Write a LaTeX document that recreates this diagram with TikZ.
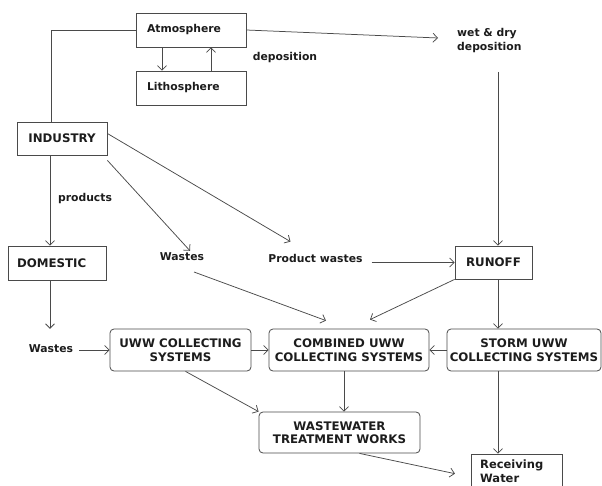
\documentclass[tikz,border=0pt]{standalone}
\usepackage{fontspec}
\setmainfont{DejaVu Sans}
\usetikzlibrary{arrows.meta}
\definecolor{lncol}{HTML}{4A4A4A}
\definecolor{txcol}{HTML}{1C1C1C}
\tikzset{
  capfont/.style={font=\bfseries\fontsize{11.8}{13.5}\selectfont},
  lowfont/.style={font=\bfseries\fontsize{10.8}{14}\selectfont},
  box/.style={draw=lncol, line width=0.8pt, rectangle, text=txcol, align=center, inner sep=0pt, capfont},
  rbox/.style={box, rounded corners=4pt},
  lbl/.style={text=txcol, inner sep=2pt, align=left, lowfont},
  plain/.style={draw=lncol, line width=0.75pt},
  arr/.style={plain, -{Straight Barb[length=4.5pt,width=9pt]}},
}
\begin{document}
\begin{tikzpicture}[x=1pt,y=-1pt]
\useasboundingbox (0,0) rectangle (602,486);
\clip (0,0) rectangle (602,486);
% boxes
\node[box, lowfont, align=left, text width=88pt, minimum width=110pt, minimum height=34pt] (atm) at (191,30) {Atmosphere};
\node[box, lowfont, align=left, text width=88pt, minimum width=110pt, minimum height=34pt] (lit) at (191,88) {Lithosphere};
\node[box, minimum width=90pt, minimum height=33pt] (ind) at (62,138.5) {INDUSTRY};
\node[box, align=left, text width=80pt, minimum width=98pt, minimum height=34pt] (dom) at (57,263) {DOMESTIC};
\node[box, minimum width=77pt, minimum height=33pt] (run) at (493.5,262.5) {RUNOFF};
\node[rbox, minimum width=141pt, minimum height=42pt] (uww) at (180.5,350) {UWW COLLECTING\\SYSTEMS};
\node[rbox, minimum width=160pt, minimum height=42pt] (comb) at (349,350) {COMBINED UWW\\COLLECTING SYSTEMS};
\node[rbox, minimum width=154pt, minimum height=42pt] (storm) at (524,350) {STORM UWW\\COLLECTING SYSTEMS};
\node[rbox, minimum width=161pt, minimum height=41pt] (wwtw) at (339.5,432.5) {WASTEWATER\\TREATMENT WORKS};
\node[box, minimum width=91pt, minimum height=46pt] (recv) at (516.5,477) {};
\node[lbl, anchor=west, font=\bfseries\fontsize{11.5}{14}\selectfont] (recvt) at (478,471.5) {Receiving\\Water};
% labels
\node[lbl] (dep) at (285,58) {deposition};
\node[lbl, anchor=west] (wd) at (455,41) {wet \& dry\\deposition};
\node[lbl] (prod) at (85,199) {products};
\node[lbl] (wsd) at (51,349) {Wastes};
\node[lbl] (wsm) at (182,257) {Wastes};
\node[lbl] (pw) at (315.5,258) {Product wastes};
% helper coordinates
\coordinate (cx) at (50,0);
\coordinate (cr) at (498,0);
\coordinate (cc) at (344,0);
\coordinate (wdin) at (438,38);
\coordinate (wdout) at (498,72);
% connectors
\draw[plain] (atm.west) -| ([xshift=-11pt]ind.north);
\draw[arr] ([xshift=-29pt]atm.south) -- ([xshift=-29pt]lit.north);
\draw[arr] ([xshift=20pt]lit.north) -- ([xshift=20pt]atm.south);
\draw[arr] (atm.east) -- (wdin);
\draw[arr] (wdout) -- (wdout |- run.north);
\draw[arr] (ind.south -| cx) -- (dom.north -| cx);
\draw[arr, shorten >=14pt] (dom.south -| cx) -- (wsd.north -| cx);
\draw[arr, shorten <=4pt] (wsd.east |- uww.west) -- (uww.west);
\draw[arr] (uww.east) -- (comb.west);
\draw[arr] (storm.west) -- (comb.east);
\draw[arr] ([yshift=-5pt]ind.south east) -- ([xshift=8pt]wsm.north);
\draw[arr] ([yshift=5pt]ind.east) -- ([xshift=-25pt,yshift=10pt]pw.north);
\draw[arr, shorten <=7pt] (pw.east |- run.west) -- (run.west);
\draw[arr] ([xshift=12pt,yshift=-15pt]wsm.center) -- ([xshift=-23pt,yshift=8pt]comb.north);
\draw[arr] (run.south west) -- ([xshift=21pt,yshift=9pt]comb.north);
\draw[arr] (run.south -| cr) -- (storm.north -| cr);
\draw[arr] (comb.south -| cc) -- (wwtw.north -| cc);
\draw[arr] ([xshift=5pt]uww.south) -- (wwtw.north west);
\draw[arr] (storm.south -| cr) -- (recv.north -| cr);
\draw[arr, shorten >=16pt] ([xshift=20pt]wwtw.south) -- (recv.west);
\end{tikzpicture}
\end{document}
